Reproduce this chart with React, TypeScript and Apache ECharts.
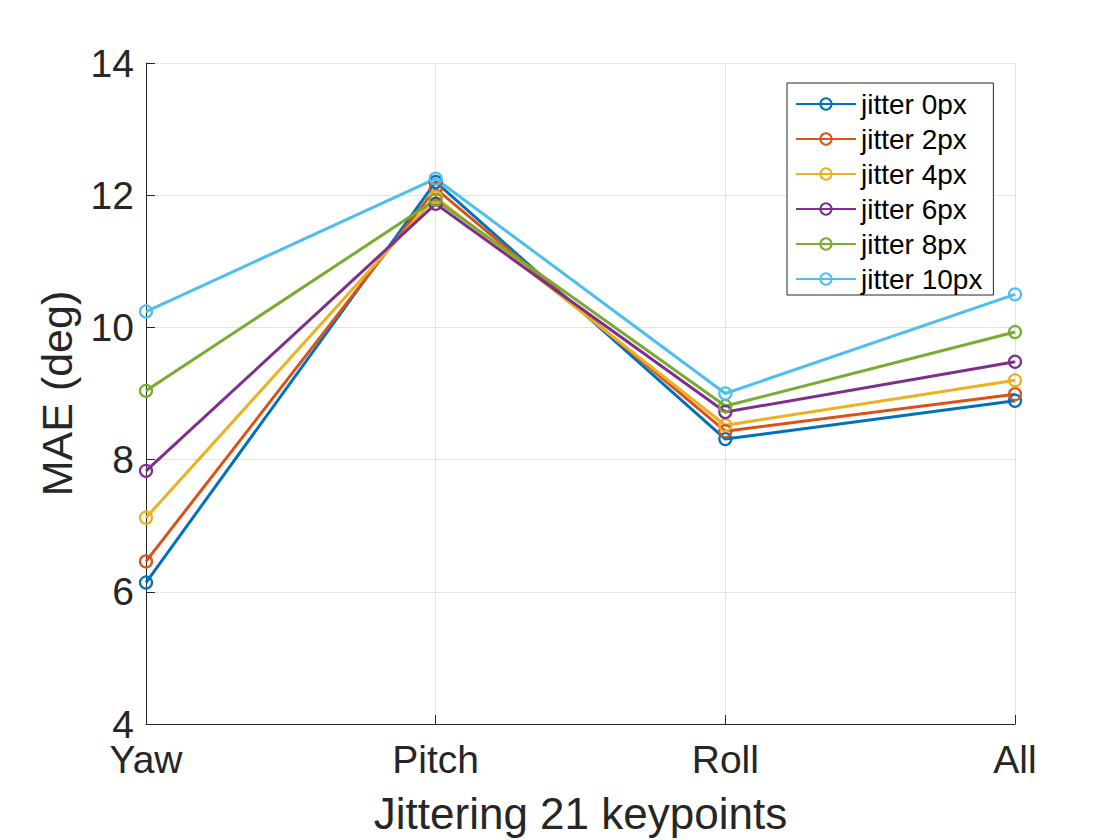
import React, { useEffect, useRef } from "react";
import * as echarts from "echarts";

const categories = ["Yaw", "Pitch", "Roll", "All"];
const seriesNames = ["jitter 0px", "jitter 2px", "jitter 4px", "jitter 6px", "jitter 8px", "jitter 10px"];
const jitter0 = [6.14, 12.2, 8.31, 8.89];
const jitter2 = [6.46, 12.1, 8.43, 8.99];
const jitter4 = [7.12, 11.97, 8.52, 9.2];
const jitter6 = [7.83, 11.87, 8.72, 9.48];
const jitter8 = [9.04, 11.93, 8.81, 9.93];
const jitter10 = [10.24, 12.25, 9.0, 10.5];
const colors = ["#0072BD", "#D95319", "#EDB120", "#7E2F8E", "#77AC30", "#4DBEEE"];

const FONT = "'Liberation Sans', Arial, Helvetica, sans-serif";

export default function App() {
  const ref = useRef<HTMLDivElement>(null);
  useEffect(() => {
    if (!ref.current) return;
    const chart = echarts.init(ref.current, undefined, { renderer: "svg" });
    const data = [jitter0, jitter2, jitter4, jitter6, jitter8, jitter10];
    chart.setOption({
      animation: false,
      backgroundColor: "#ffffff",
      textStyle: { fontFamily: FONT },
      grid: { left: 146, right: 105, top: 63, bottom: 114, containLabel: false },
      legend: {
        orient: "vertical",
        left: 787,
        top: 83,
        padding: [7, 11, 2, 8],
        borderColor: "#262626",
        borderWidth: 1,
        borderRadius: 0,
        backgroundColor: "#ffffff",
        itemWidth: 60,
        itemHeight: 14,
        itemGap: 7,
        textStyle: { fontSize: 28, color: "#000", fontFamily: FONT },
        data: seriesNames,
      },
      xAxis: {
        type: "category",
        data: categories,
        boundaryGap: false,
        name: "Jittering 21 keypoints",
        nameLocation: "middle",
        nameGap: 67,
        nameTextStyle: { fontSize: 44, color: "#262626", fontFamily: FONT },
        axisLine: { lineStyle: { color: "#262626", width: 1 } },
        axisTick: { inside: true, length: 9, lineStyle: { color: "#262626" } },
        axisLabel: { fontSize: 39, lineHeight: 30, color: "#262626", margin: 20, fontFamily: FONT },
        splitLine: { show: true, lineStyle: { color: "#e3e3e3", width: 1 } },
      },
      yAxis: {
        type: "value",
        min: 4,
        max: 14,
        interval: 2,
        name: "MAE (deg)",
        nameLocation: "middle",
        nameGap: 68,
        nameTextStyle: { fontSize: 43, color: "#262626", fontFamily: FONT },
        axisLine: { show: true, lineStyle: { color: "#262626", width: 1 } },
        axisTick: { show: true, inside: true, length: 9, lineStyle: { color: "#262626" } },
        axisLabel: { fontSize: 39, lineHeight: 30, color: "#262626", margin: 12, fontFamily: FONT },
        splitLine: { show: true, lineStyle: { color: "#e3e3e3", width: 1 } },
      },
      series: seriesNames.map((name, i) => ({
        name,
        type: "line",
        data: data[i],
        symbol: "circle",
        symbolSize: 12,
        lineStyle: { color: colors[i], width: 3 },
        itemStyle: { color: "rgba(255,255,255,0)", borderColor: colors[i], borderWidth: 2.2 },
        emphasis: { disabled: true },
      })),
    });
    return () => chart.dispose();
  }, []);
  return (
    <div
      ref={ref}
      style={{ position: "absolute", left: 0, top: 0, width: 1120, height: 840 }}
    />
  );
}
